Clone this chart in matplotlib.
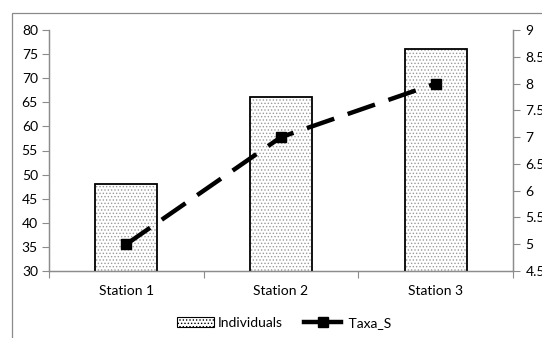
import matplotlib.pyplot as plt
from matplotlib.patches import Rectangle, Patch
from matplotlib.lines import Line2D

stations = ["Station 1", "Station 2", "Station 3"]
individuals = [48, 66, 76]
taxa_s = [5, 7, 8]

plt.rcParams['font.family'] = ['Lato', 'DejaVu Sans']
plt.rcParams['hatch.linewidth'] = 0.6

fig = plt.figure(figsize=(5.42, 3.38), dpi=100)
# outer chart frame (cut off at right/bottom like the reference)
fig.patches.append(Rectangle((11.5 / 542, -0.1), 1.2, 1.1 - 12.5 / 338,
                             transform=fig.transFigure, fill=False,
                             edgecolor='#8a8a8a', linewidth=0.9))

ax = fig.add_axes([49 / 542, 1 - 271 / 338, 464 / 542, 241 / 338])
x = range(len(stations))
gray = '#8c8c8c'

# dotted fill, then black outline on top
ax.bar(x, individuals, width=0.4, color='white', edgecolor='#9a9a9a',
       hatch='.....', linewidth=0, zorder=2)
ax.bar(x, individuals, width=0.4, color='none', edgecolor='black', linewidth=1.3, zorder=3)
ax.set_ylim(30, 80)
ax.set_xlim(-0.5, 2.5)
ax.set_yticks(range(30, 81, 5))
ax.set_xticks([-0.5, 0.5, 1.5, 2.5])
ax.set_xticklabels([])
ax.set_xticks(list(x), minor=True)
ax.set_xticklabels(stations, minor=True)
ax.tick_params(axis='x', which='minor', length=0, pad=10, labelsize=10)
ax.tick_params(axis='x', which='major', length=5, color=gray, direction='out')
ax.tick_params(axis='y', length=5, color=gray, labelsize=10, pad=3)

ax2 = ax.twinx()
ax2.plot(list(x), taxa_s, color='black', linewidth=3.2, linestyle=(0, (6.5, 3.2)),
         marker='s', markersize=7, zorder=4)
ax2.set_ylim(4.5, 9)
ax2.set_yticks([4.5, 5, 5.5, 6, 6.5, 7, 7.5, 8, 8.5, 9])
ax2.set_yticklabels(['4.5', '5', '5.5', '6', '6.5', '7', '7.5', '8', '8.5', '9'])
ax2.tick_params(axis='y', length=5, color=gray, labelsize=10, pad=4)

for a in (ax, ax2):
    a.spines['top'].set_visible(False)
    for s in ('left', 'right', 'bottom'):
        a.spines[s].set_color(gray)
        a.spines[s].set_linewidth(0.9)

handles = [Patch(facecolor='white', edgecolor='black', hatch='.....', linewidth=0.8),
           Line2D([0], [0], color='black', linewidth=3.2, marker='s', markersize=7)]
fig.legend(handles, ['Individuals', ' Taxa_S'], loc='center', ncol=2,
           bbox_to_anchor=(284 / 542, 1 - 323 / 338), frameon=False, fontsize=10,
           handlelength=2.7, handletextpad=0.25, columnspacing=1.5)

fig.savefig('out.png', dpi=100)
